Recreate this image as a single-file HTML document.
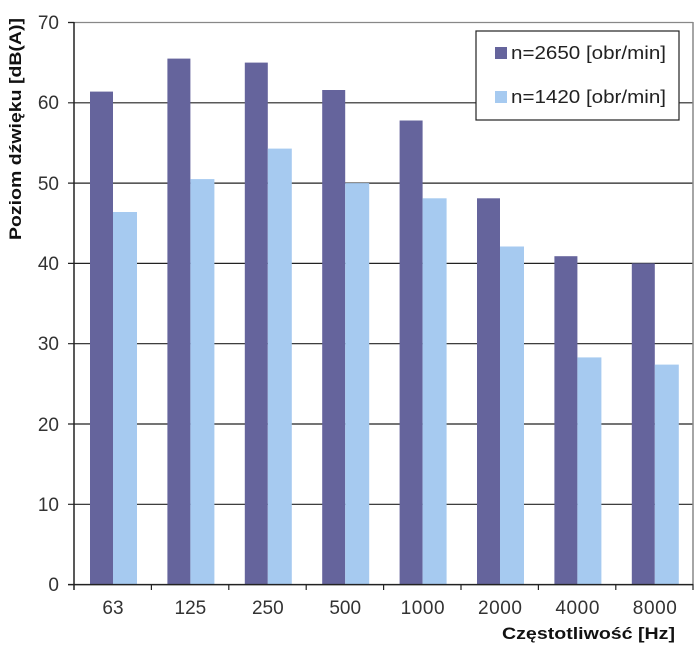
<!DOCTYPE html>
<html><head><meta charset="utf-8"><style>
html,body{margin:0;padding:0;background:#fff;}
svg{display:block;font-family:"Liberation Sans",sans-serif;}
</style></head><body>
<svg width="700" height="650" viewBox="0 0 700 650" xmlns="http://www.w3.org/2000/svg">
<rect width="700" height="650" fill="#fff"/>
<g stroke="#222" stroke-width="1.2">
<line x1="68" y1="22.5" x2="693" y2="22.5" stroke="#888"/>
<line x1="68" y1="102.8" x2="693" y2="102.8"/>
<line x1="68" y1="183.1" x2="693" y2="183.1"/>
<line x1="68" y1="263.4" x2="693" y2="263.4"/>
<line x1="68" y1="343.7" x2="693" y2="343.7"/>
<line x1="68" y1="424" x2="693" y2="424"/>
<line x1="68" y1="504.3" x2="693" y2="504.3"/>
</g>
<line x1="693" y1="22" x2="693" y2="584" stroke="#888" stroke-width="1.5"/>
<g fill="#65649c">
<rect x="90" y="91.6" width="23" height="493"/>
<rect x="167.4" y="58.6" width="23" height="526"/>
<rect x="244.8" y="62.6" width="23" height="522"/>
<rect x="322.2" y="90" width="23" height="494.6"/>
<rect x="399.6" y="120.5" width="23" height="464.1"/>
<rect x="477" y="198.3" width="23" height="386.3"/>
<rect x="554.4" y="256.2" width="23" height="328.4"/>
<rect x="631.8" y="263.4" width="23" height="321.2"/>
</g>
<g fill="#a6caf0">
<rect x="113" y="212" width="24" height="372.6"/>
<rect x="190.4" y="179.1" width="24" height="405.5"/>
<rect x="267.8" y="148.6" width="24" height="436"/>
<rect x="345.2" y="183.1" width="24" height="401.5"/>
<rect x="422.6" y="198.3" width="24" height="386.3"/>
<rect x="500" y="246.5" width="24" height="338.1"/>
<rect x="577.4" y="357.4" width="24" height="227.2"/>
<rect x="654.8" y="364.6" width="24" height="220"/>
</g>
<line x1="74" y1="22" x2="74" y2="590" stroke="#222" stroke-width="1.5"/>
<line x1="68" y1="584.6" x2="693" y2="584.6" stroke="#222" stroke-width="1.5"/>
<line x1="68" y1="22.5" x2="74" y2="22.5" stroke="#222" stroke-width="1.2"/>
<g stroke="#222" stroke-width="1.2">
<line x1="151.4" y1="584" x2="151.4" y2="590"/>
<line x1="228.8" y1="584" x2="228.8" y2="590"/>
<line x1="306.2" y1="584" x2="306.2" y2="590"/>
<line x1="383.6" y1="584" x2="383.6" y2="590"/>
<line x1="461" y1="584" x2="461" y2="590"/>
<line x1="538.4" y1="584" x2="538.4" y2="590"/>
<line x1="615.8" y1="584" x2="615.8" y2="590"/>
<line x1="693" y1="584" x2="693" y2="590"/>
</g>
<g font-size="19" fill="#333" text-anchor="end">
<text x="59" y="29">70</text>
<text x="59" y="109">60</text>
<text x="59" y="190">50</text>
<text x="59" y="270">40</text>
<text x="59" y="350">30</text>
<text x="59" y="431">20</text>
<text x="59" y="511">10</text>
<text x="59" y="591">0</text>
</g>
<g font-size="19" fill="#333" text-anchor="middle">
<text x="113" y="614">63</text>
<text x="190.4" y="614">125</text>
<text x="267.8" y="614">250</text>
<text x="345.2" y="614">500</text>
<text x="422.6" y="614" textLength="44">1000</text>
<text x="500" y="614" textLength="44">2000</text>
<text x="577.4" y="614" textLength="44">4000</text>
<text x="654.8" y="614" textLength="44">8000</text>
</g>
<text x="502" y="639" font-size="17" font-weight="bold" fill="#111" textLength="173" lengthAdjust="spacingAndGlyphs">Częstotliwość [Hz]</text>
<text transform="translate(21,240) rotate(-90)" font-size="17" font-weight="bold" fill="#111" textLength="222" lengthAdjust="spacingAndGlyphs">Poziom dźwięku [dB(A)]</text>
<rect x="476" y="31" width="203" height="89" fill="#fff" stroke="#222" stroke-width="1.2"/>
<rect x="495" y="47" width="12" height="12" fill="#65649c"/>
<text x="511" y="59" font-size="18" fill="#222" textLength="155" lengthAdjust="spacingAndGlyphs">n=2650 [obr/min]</text>
<rect x="495" y="91" width="12" height="12" fill="#a6caf0"/>
<text x="511" y="103" font-size="18" fill="#222" textLength="155" lengthAdjust="spacingAndGlyphs">n=1420 [obr/min]</text>
</svg>
</body></html>
